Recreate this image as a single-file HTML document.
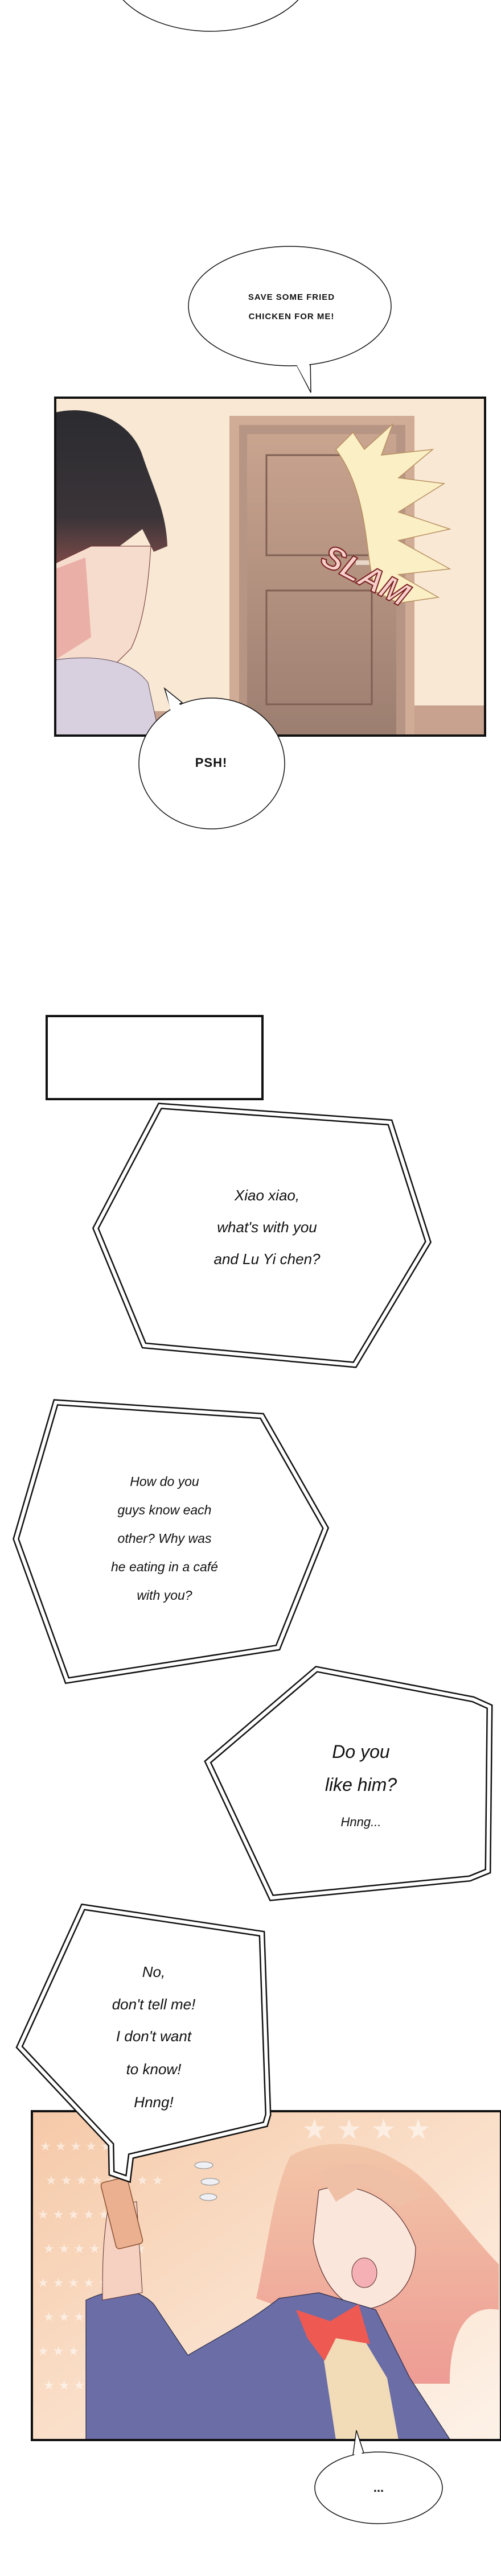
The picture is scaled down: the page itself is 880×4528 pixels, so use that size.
<!DOCTYPE html>
<html><head><meta charset="utf-8"><style>
html,body{margin:0;padding:0;background:#fff}
body{width:880px;height:4528px;overflow:hidden;position:relative}
svg{position:absolute;left:0;top:0}
.hw{font-family:"Liberation Sans",sans-serif;font-style:italic;fill:#111}
.cap{font-family:"Liberation Sans",sans-serif;fill:#111;font-weight:bold}
</style></head><body>
<svg width="880" height="4528" viewBox="0 0 880 4528" xmlns="http://www.w3.org/2000/svg">
<defs>
<linearGradient id="door" x1="0" y1="0" x2="0" y2="1"><stop offset="0" stop-color="#c9a48f"/><stop offset="1" stop-color="#9c7e70"/></linearGradient>
<linearGradient id="bg2" x1="0" y1="0" x2="1" y2="1"><stop offset="0" stop-color="#f5c9a8"/><stop offset="0.6" stop-color="#fbe3cf"/><stop offset="1" stop-color="#fdf2e8"/></linearGradient>
<linearGradient id="hair" x1="0" y1="0" x2="0" y2="1"><stop offset="0" stop-color="#f2c6a8"/><stop offset="1" stop-color="#ee9c94"/></linearGradient>
<linearGradient id="hairb" x1="0" y1="0" x2="0" y2="1"><stop offset="0" stop-color="#2b2b30"/><stop offset="0.7" stop-color="#3a3438"/><stop offset="1" stop-color="#7a4a48"/></linearGradient>
</defs>

<ellipse cx="370" cy="-60" rx="180" ry="115" fill="#fff" stroke="#111" stroke-width="1.5"/>

<path d="M515 630 L546 690 L545 628 Z" fill="#fff" stroke="#111" stroke-width="1.5"/>
<ellipse cx="509" cy="538" rx="178" ry="105" fill="#fff" stroke="#111" stroke-width="1.5"/>
<path d="M518 636 L544 684 L543 636 Z" fill="#fff"/>
<text class="cap" x="512" y="527" font-size="15" text-anchor="middle" letter-spacing="1">SAVE SOME FRIED</text>
<text class="cap" x="512" y="561" font-size="15" text-anchor="middle" letter-spacing="1">CHICKEN FOR ME!</text>

<rect x="97" y="699" width="755" height="594" fill="#f8e8d4"/>
<rect x="403" y="731" width="325" height="562" fill="#d0ab95"/>
<rect x="420" y="747" width="292" height="546" fill="#b79584"/>
<rect x="434" y="763" width="262" height="530" fill="url(#door)"/>
<rect x="468" y="800" width="185" height="176" fill="none" stroke="#7e5f52" stroke-width="3"/>
<rect x="468" y="1038" width="185" height="200" fill="none" stroke="#7e5f52" stroke-width="3"/>
<rect x="728" y="1240" width="124" height="53" fill="#c8a28f"/>
<rect x="97" y="1250" width="306" height="43" fill="#c8a28f"/>
<rect x="625" y="985" width="45" height="8" fill="#e8d6c8"/>
<path d="M590 790 L620 760 L640 790 L690 745 L670 800 L760 790 L700 840 L780 850 L700 900 L790 930 L700 950 L790 1000 L700 1010 L770 1050 L700 1060 L660 1040 C 640 980 650 870 590 790 Z" fill="#fbefc6" stroke="#b89060" stroke-width="1.5"/>
<text x="560" y="1010" font-family="Liberation Sans,sans-serif" font-weight="bold" font-style="italic" font-size="58" fill="#f7d0cc" stroke="#7a2020" stroke-width="2" transform="rotate(28 600 1000)">SLAM</text>
<path d="M97 725 C160 710 230 740 250 800 C270 860 292 900 294 960 L270 970 L250 930 L210 960 L97 990 Z" fill="url(#hairb)"/>
<path d="M160 960 C180 960 200 960 250 960 L265 960 C260 1040 250 1100 230 1140 L200 1170 L97 1175 L97 990 Z" fill="#f6dccd" stroke="#6a2a2a" stroke-width="1"/>
<path d="M97 1000 L150 980 L160 1120 L97 1160 Z" fill="#eab0a8"/>
<path d="M97 1160 C170 1150 230 1160 260 1200 L280 1293 L97 1293 Z" fill="#d8d0de" stroke="#5a4a5a" stroke-width="1"/>
<rect x="97" y="699" width="755" height="594" fill="none" stroke="#111" stroke-width="4"/>

<path d="M289 1210 L300 1245 L320 1235 Z" fill="#fff" stroke="#111" stroke-width="1.5"/>
<ellipse cx="372" cy="1342" rx="128" ry="115" fill="#fff" stroke="#111" stroke-width="1.5"/>
<path d="M293 1220 L300 1250 L318 1240 Z" fill="#fff"/>
<text class="cap" x="371" y="1348" font-size="22" text-anchor="middle" letter-spacing="1">PSH!</text>

<rect x="82" y="1786" width="379" height="146" fill="#fff" stroke="#111" stroke-width="4"/>

<g fill="#fff" stroke="#111" stroke-width="11" stroke-linejoin="miter">
<polygon points="281,1944 685,1973 752,2183 623,2399 253,2365 168,2159"/>
<polygon points="98,2465 460,2489 572,2686 488,2896 118,2954 28,2705"/>
<polygon points="556,2934 831,2987 860,3000 857,3289 825,3302 477,3336 365,3097"/>
</g>
<g fill="none" stroke="#fff" stroke-width="6">
<polygon points="281,1944 685,1973 752,2183 623,2399 253,2365 168,2159"/>
<polygon points="98,2465 460,2489 572,2686 488,2896 118,2954 28,2705"/>
<polygon points="556,2934 831,2987 860,3000 857,3289 825,3302 477,3336 365,3097"/>
</g>
<text class="hw" x="469" y="2110" font-size="26" text-anchor="middle">Xiao xiao,</text>
<text class="hw" x="469" y="2166" font-size="26" text-anchor="middle">what's with you</text>
<text class="hw" x="469" y="2222" font-size="26" text-anchor="middle">and Lu Yi chen?</text>
<text class="hw" x="289" y="2612" font-size="23" text-anchor="middle">How do you</text>
<text class="hw" x="289" y="2662" font-size="23" text-anchor="middle">guys know each</text>
<text class="hw" x="289" y="2712" font-size="23" text-anchor="middle">other? Why was</text>
<text class="hw" x="289" y="2762" font-size="23" text-anchor="middle">he eating in a café</text>
<text class="hw" x="289" y="2812" font-size="23" text-anchor="middle">with you?</text>
<text class="hw" x="634" y="3090" font-size="32" text-anchor="middle">Do you</text>
<text class="hw" x="634" y="3148" font-size="32" text-anchor="middle">like him?</text>
<text class="hw" x="634" y="3210" font-size="22" text-anchor="middle">Hnng...</text>

<rect x="56" y="3711" width="824" height="578" fill="url(#bg2)"/>
<g fill="#fff" opacity="0.55" font-size="22" font-family="DejaVu Sans,sans-serif">
<text x="70" y="3780">★ ★ ★ ★ ★ ★ ★</text><text x="80" y="3840">★ ★ ★ ★ ★ ★ ★ ★</text>
<text x="66" y="3900">★ ★ ★ ★ ★ ★ ★</text><text x="76" y="3960">★ ★ ★ ★ ★ ★ ★</text>
<text x="66" y="4020">★ ★ ★ ★ ★ ★</text><text x="76" y="4080">★ ★ ★ ★ ★</text>
<text x="66" y="4140">★ ★ ★ ★ ★</text><text x="76" y="4200">★ ★ ★ ★</text>
<text x="530" y="3760" font-size="50">★ ★ ★ ★</text>
</g>
<path d="M510 3790 C560 3760 640 3760 700 3800 C760 3830 800 3900 876 3980 L876 4060 C820 4050 790 4100 790 4190 L700 4190 L620 4100 L450 4040 C470 3950 480 3850 510 3790 Z" fill="url(#hair)"/>
<path d="M560 3850 C620 3830 700 3860 730 3950 C730 4010 700 4050 640 4060 C590 4050 560 4000 550 3940 Z" fill="#fbe6dc" stroke="#5a3030" stroke-width="1.2"/>
<ellipse cx="640" cy="3995" rx="22" ry="26" fill="#f4b0b4" stroke="#5a3030" stroke-width="1"/>
<path d="M560 3820 C610 3790 690 3800 740 3860 L700 3880 L640 3840 L590 3870 Z" fill="#f0c0a6"/>
<path d="M151 4043 C200 4020 240 4020 270 4050 L330 4140 C380 4110 440 4080 490 4040 L560 4030 L660 4060 L720 4180 L791 4289 L151 4289 Z" fill="#6a6da6" stroke="#2a2a44" stroke-width="1.2"/>
<path d="M560 4090 L620 4080 L680 4180 L700 4289 L590 4289 Z" fill="#f2dcb8"/>
<path d="M520 4060 L580 4080 L630 4050 L650 4120 L590 4110 L570 4150 L540 4110 Z" fill="#ee5a52"/>
<path d="M180 4043 C180 3990 180 3940 190 3880 L240 3870 L250 4030 Z" fill="#f6d0c0" stroke="#5a3030" stroke-width="1"/>
<rect x="190" y="3830" width="48" height="120" rx="6" fill="#eab090" stroke="#8a5030" stroke-width="1.5" transform="rotate(-14 214 3890)"/>
<g fill="#eef0f4" stroke="#888" stroke-width="1"><ellipse cx="358" cy="3806" rx="16" ry="6"/><ellipse cx="369" cy="3835" rx="16" ry="6"/><ellipse cx="366" cy="3862" rx="15" ry="6"/></g>
<rect x="56" y="3711" width="824" height="578" fill="none" stroke="#111" stroke-width="4"/>

<polygon points="146,3352 460,3399 471,3717 466,3734 230,3790 225,3830 196,3820 195,3770 34,3598" fill="#fff" stroke="#111" stroke-width="11"/>
<polygon points="146,3352 460,3399 471,3717 466,3734 230,3790 225,3830 196,3820 195,3770 34,3598" fill="none" stroke="#fff" stroke-width="6"/>
<text class="hw" x="270" y="3475" font-size="26" text-anchor="middle">No,</text>
<text class="hw" x="270" y="3532" font-size="26" text-anchor="middle">don't tell me!</text>
<text class="hw" x="270" y="3588" font-size="26" text-anchor="middle">I don't want</text>
<text class="hw" x="270" y="3646" font-size="26" text-anchor="middle">to know!</text>
<text class="hw" x="270" y="3704" font-size="26" text-anchor="middle">Hnng!</text>

<path d="M620 4315 L626 4272 L640 4315 Z" fill="#fff" stroke="#111" stroke-width="1.5"/>
<ellipse cx="665" cy="4373" rx="112" ry="63" fill="#fff" stroke="#111" stroke-width="1.5"/>
<path d="M622 4318 L626 4280 L637 4318 Z" fill="#fff"/>
<text class="cap" x="665" y="4380" font-size="22" text-anchor="middle">...</text>
</svg>
</body></html>
